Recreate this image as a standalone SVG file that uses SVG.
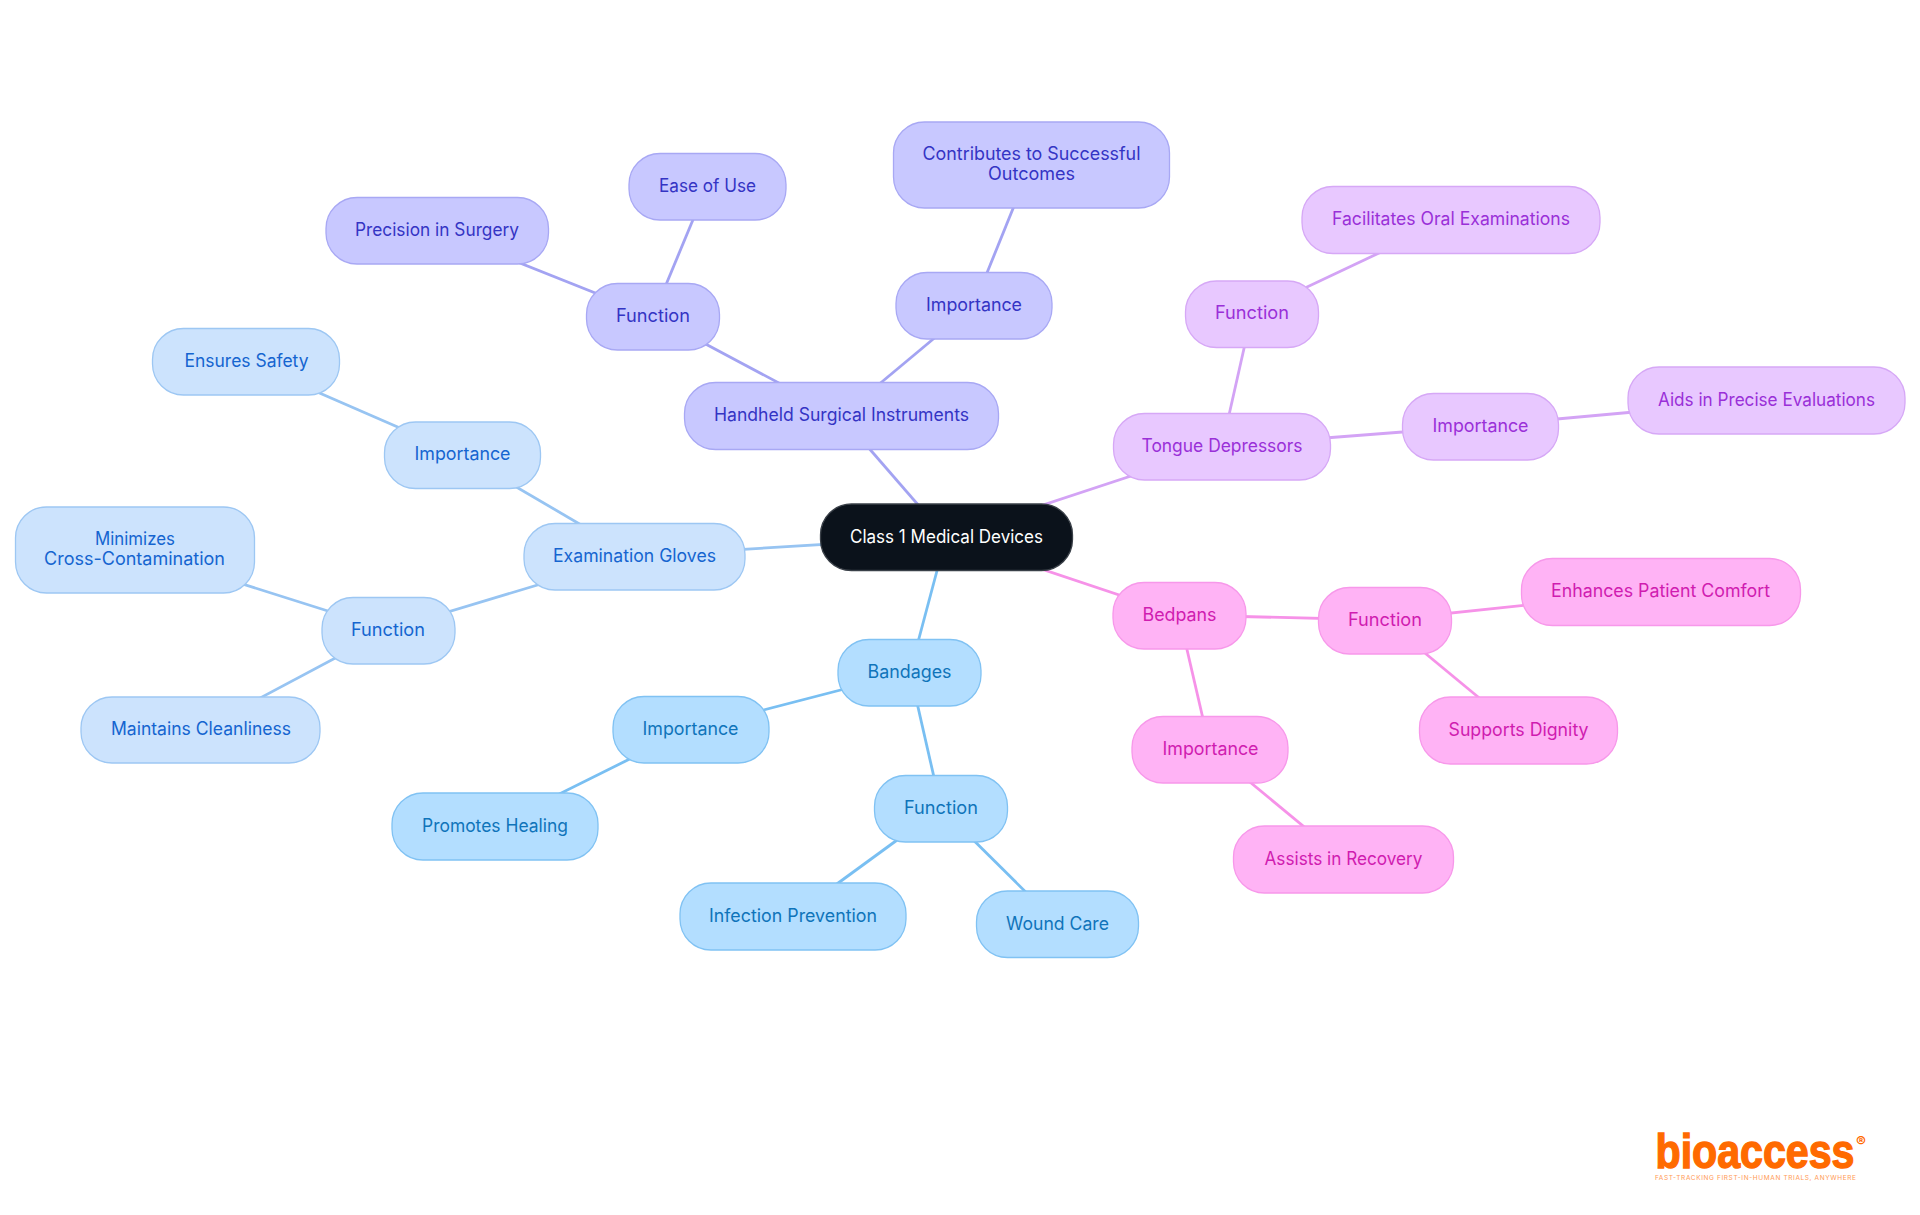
<svg xmlns="http://www.w3.org/2000/svg" width="1920" height="1215" viewBox="0 0 1920 1215">
<style>
text{font-family:Inter,"Noto Sans","Liberation Sans",sans-serif;font-size:18px;text-anchor:middle}
rect{stroke-width:1.3}
#connectors line{stroke-width:2.8;fill:none}
.r rect{fill:#0b121b;stroke:#3a4048}.r text{fill:#fff}
.a rect{fill:#c8c8ff;stroke:#a8a8f4}.a text{fill:#3434c4}
.b rect{fill:#e8c8ff;stroke:#d6a8f6}.b text{fill:#9a30d8}
.c rect{fill:#ffb3f5;stroke:#f798ea}.c text{fill:#d01cb0}
.d rect{fill:#b3deff;stroke:#80c2f3}.d text{fill:#0f74ba}
.e rect{fill:#cce3fd;stroke:#9dc7f3}.e text{fill:#1565d0}
.la{stroke:#a3a3f2}.lb{stroke:#d3a3f5}.lc{stroke:#f692e8}.ld{stroke:#79bff2}.le{stroke:#97c4f2}
</style>
<rect width="1920" height="1215" fill="#fff" style="stroke:none"/>
<g id="connectors">
<line class="la" x1="946" y1="537" x2="841" y2="416"/>
<line class="la" x1="841" y1="416" x2="653" y2="316"/>
<line class="la" x1="841" y1="416" x2="974" y2="305"/>
<line class="la" x1="653" y1="316" x2="437" y2="230"/>
<line class="la" x1="653" y1="316" x2="707" y2="186"/>
<line class="la" x1="974" y1="305" x2="1031" y2="164"/>
<line class="lb" x1="946" y1="537" x2="1222" y2="446"/>
<line class="lb" x1="1222" y1="446" x2="1252" y2="313"/>
<line class="lb" x1="1222" y1="446" x2="1480" y2="426"/>
<line class="lb" x1="1252" y1="313" x2="1451" y2="219"/>
<line class="lb" x1="1480" y1="426" x2="1766" y2="400"/>
<line class="lc" x1="946" y1="537" x2="1179" y2="615"/>
<line class="lc" x1="1179" y1="615" x2="1385" y2="620"/>
<line class="lc" x1="1179" y1="615" x2="1210" y2="749"/>
<line class="lc" x1="1385" y1="620" x2="1661" y2="591"/>
<line class="lc" x1="1385" y1="620" x2="1518" y2="730"/>
<line class="lc" x1="1210" y1="749" x2="1343" y2="859"/>
<line class="ld" x1="946" y1="537" x2="910" y2="672"/>
<line class="ld" x1="910" y1="672" x2="690" y2="729"/>
<line class="ld" x1="910" y1="672" x2="941" y2="808"/>
<line class="ld" x1="690" y1="729" x2="495" y2="826"/>
<line class="ld" x1="941" y1="808" x2="793" y2="916"/>
<line class="ld" x1="941" y1="808" x2="1057" y2="923"/>
<line class="le" x1="946" y1="537" x2="634" y2="556"/>
<line class="le" x1="634" y1="556" x2="462" y2="455"/>
<line class="le" x1="634" y1="556" x2="388" y2="630"/>
<line class="le" x1="462" y1="455" x2="246" y2="361"/>
<line class="le" x1="388" y1="630" x2="135" y2="550"/>
<line class="le" x1="388" y1="630" x2="200" y2="730"/>
</g>
<g id="root" class="r"><rect x="820.5" y="504" width="252" height="66.5" rx="31"/><text x="946.5" y="542.5" textLength="193" lengthAdjust="spacingAndGlyphs">Class 1 Medical Devices</text></g>
<g id="handheld" class="a"><rect x="684.5" y="382.5" width="314" height="67" rx="31"/><text x="841.5" y="421" textLength="255" lengthAdjust="spacingAndGlyphs">Handheld Surgical Instruments</text></g>
<g id="hs-function" class="a"><rect x="586.5" y="283.5" width="133" height="66.5" rx="31"/><text x="653" y="322" textLength="74" lengthAdjust="spacingAndGlyphs">Function</text></g>
<g id="hs-importance" class="a"><rect x="896" y="272.5" width="156" height="66.5" rx="31"/><text x="974" y="311" textLength="96" lengthAdjust="spacingAndGlyphs">Importance</text></g>
<g id="hs-precision" class="a"><rect x="326" y="197.5" width="222.5" height="66.5" rx="31"/><text x="437" y="236" textLength="164" lengthAdjust="spacingAndGlyphs">Precision in Surgery</text></g>
<g id="hs-ease" class="a"><rect x="629" y="153.5" width="157" height="66.5" rx="31"/><text x="707.5" y="192" textLength="97" lengthAdjust="spacingAndGlyphs">Ease of Use</text></g>
<g id="hs-outcomes" class="a"><rect x="893.5" y="122" width="276" height="86" rx="31"/><text x="1031.5" y="160" textLength="218" lengthAdjust="spacingAndGlyphs">Contributes to Successful</text><text x="1031.5" y="180" textLength="87" lengthAdjust="spacingAndGlyphs">Outcomes</text></g>
<g id="tongue" class="b"><rect x="1113.5" y="413.5" width="217" height="66.5" rx="31"/><text x="1222" y="452" textLength="161" lengthAdjust="spacingAndGlyphs">Tongue Depressors</text></g>
<g id="td-function" class="b"><rect x="1185.5" y="281" width="133" height="66.5" rx="31"/><text x="1252" y="319" textLength="74" lengthAdjust="spacingAndGlyphs">Function</text></g>
<g id="td-importance" class="b"><rect x="1402.5" y="393.5" width="156" height="66.5" rx="31"/><text x="1480.5" y="432" textLength="96" lengthAdjust="spacingAndGlyphs">Importance</text></g>
<g id="td-facilitates" class="b"><rect x="1302" y="186.5" width="298" height="67" rx="31"/><text x="1451" y="225" textLength="238" lengthAdjust="spacingAndGlyphs">Facilitates Oral Examinations</text></g>
<g id="td-aids" class="b"><rect x="1628" y="367" width="277" height="67" rx="31"/><text x="1766.5" y="406" textLength="217" lengthAdjust="spacingAndGlyphs">Aids in Precise Evaluations</text></g>
<g id="bedpans" class="c"><rect x="1113" y="582.5" width="133" height="66.5" rx="31"/><text x="1179.5" y="621" textLength="74" lengthAdjust="spacingAndGlyphs">Bedpans</text></g>
<g id="bp-function" class="c"><rect x="1318.5" y="587.5" width="133" height="66.5" rx="31"/><text x="1385" y="626" textLength="74" lengthAdjust="spacingAndGlyphs">Function</text></g>
<g id="bp-importance" class="c"><rect x="1132" y="716.5" width="156" height="66.5" rx="31"/><text x="1210.5" y="755" textLength="96" lengthAdjust="spacingAndGlyphs">Importance</text></g>
<g id="bp-comfort" class="c"><rect x="1521.5" y="558.5" width="279" height="67" rx="31"/><text x="1660.5" y="597" textLength="219" lengthAdjust="spacingAndGlyphs">Enhances Patient Comfort</text></g>
<g id="bp-dignity" class="c"><rect x="1419.5" y="697" width="198" height="67" rx="31"/><text x="1518.5" y="736" textLength="140" lengthAdjust="spacingAndGlyphs">Supports Dignity</text></g>
<g id="bp-recovery" class="c"><rect x="1233.5" y="826" width="220" height="67" rx="31"/><text x="1343.5" y="865" textLength="158" lengthAdjust="spacingAndGlyphs">Assists in Recovery</text></g>
<g id="bandages" class="d"><rect x="838" y="639.5" width="143" height="66.5" rx="31"/><text x="909.5" y="678" textLength="84" lengthAdjust="spacingAndGlyphs">Bandages</text></g>
<g id="bd-importance" class="d"><rect x="613" y="696.5" width="156" height="66.5" rx="31"/><text x="690.5" y="735" textLength="96" lengthAdjust="spacingAndGlyphs">Importance</text></g>
<g id="bd-function" class="d"><rect x="874.5" y="775.5" width="133" height="66.5" rx="31"/><text x="941" y="814" textLength="74" lengthAdjust="spacingAndGlyphs">Function</text></g>
<g id="bd-healing" class="d"><rect x="392" y="793" width="206" height="67" rx="31"/><text x="495" y="832" textLength="146" lengthAdjust="spacingAndGlyphs">Promotes Healing</text></g>
<g id="bd-infection" class="d"><rect x="680" y="883" width="226" height="67" rx="31"/><text x="793" y="922" textLength="168" lengthAdjust="spacingAndGlyphs">Infection Prevention</text></g>
<g id="bd-wound" class="d"><rect x="976.5" y="891" width="162" height="66.5" rx="31"/><text x="1057.5" y="930" textLength="103" lengthAdjust="spacingAndGlyphs">Wound Care</text></g>
<g id="gloves" class="e"><rect x="524" y="523.5" width="221" height="66.5" rx="31"/><text x="634.5" y="561.5" textLength="163" lengthAdjust="spacingAndGlyphs">Examination Gloves</text></g>
<g id="eg-importance" class="e"><rect x="384.5" y="422" width="156" height="66.5" rx="31"/><text x="462.5" y="460" textLength="96" lengthAdjust="spacingAndGlyphs">Importance</text></g>
<g id="eg-function" class="e"><rect x="322" y="597.5" width="133" height="66.5" rx="31"/><text x="388" y="636" textLength="74" lengthAdjust="spacingAndGlyphs">Function</text></g>
<g id="eg-safety" class="e"><rect x="152.5" y="328.5" width="187" height="66.5" rx="31"/><text x="246.5" y="367" textLength="124" lengthAdjust="spacingAndGlyphs">Ensures Safety</text></g>
<g id="eg-cross" class="e"><rect x="15.5" y="507" width="239" height="86" rx="31"/><text x="135" y="545" textLength="80" lengthAdjust="spacingAndGlyphs">Minimizes</text><text x="134.5" y="565" textLength="181" lengthAdjust="spacingAndGlyphs">Cross-Contamination</text></g>
<g id="eg-clean" class="e"><rect x="81" y="697" width="239" height="66" rx="31"/><text x="201" y="735" textLength="180" lengthAdjust="spacingAndGlyphs">Maintains Cleanliness</text></g>
<g id="logo">
<text x="1755" y="1167.5" textLength="199" lengthAdjust="spacingAndGlyphs" style="font-family:'Liberation Sans',sans-serif;font-size:48px;font-weight:700;fill:#ff6a00;stroke:#ff6a00;stroke-width:1.4">bioaccess</text>
<text x="1861" y="1147" style="font-size:15px;font-weight:700;fill:#ff6a00">®</text>
<text x="1755.5" y="1180" textLength="201" style="font-size:6.5px;fill:#ff9a55">FAST-TRACKING FIRST-IN-HUMAN TRIALS, ANYWHERE</text>
</g>
</svg>
